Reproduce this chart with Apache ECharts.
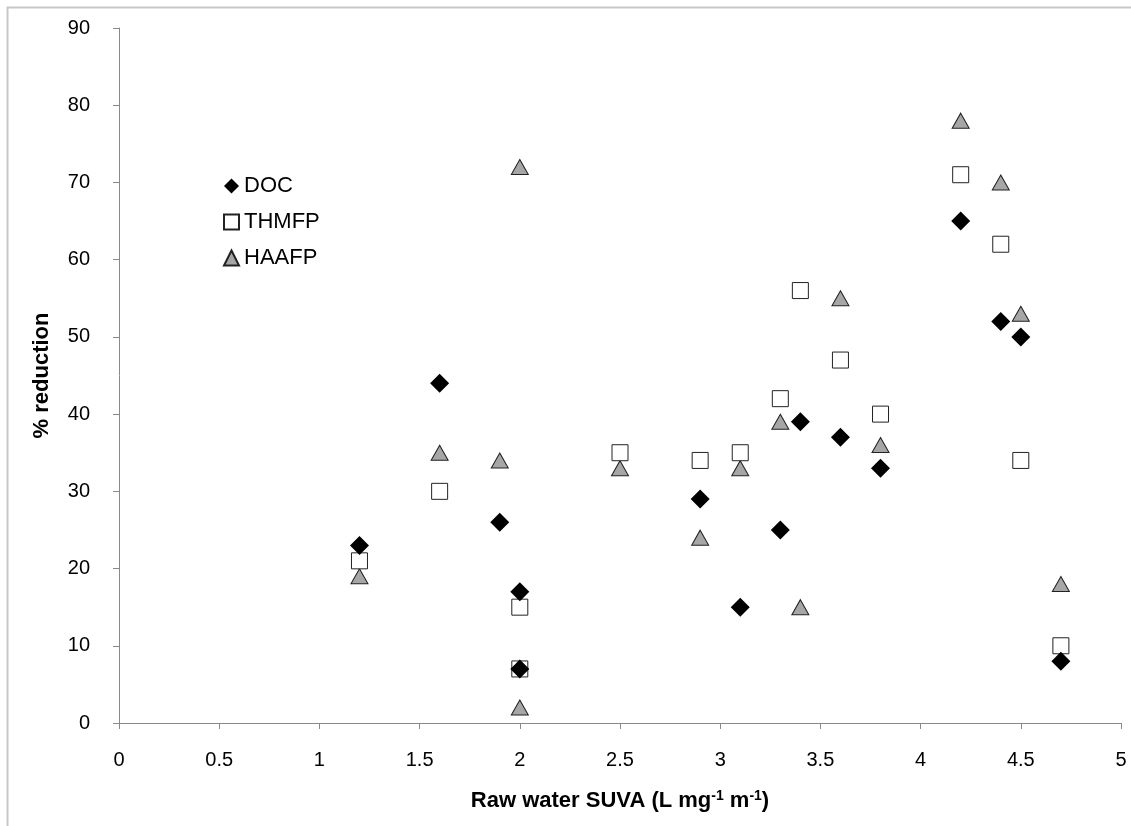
<!DOCTYPE html>
<html lang="en">
<head>
    <meta charset="UTF-8">
    <title>% reduction vs raw water SUVA</title>
    <script src="https://cdn.jsdelivr.net/npm/echarts@6/dist/echarts.min.js"></script>
    <style>
        body, html {
            margin: 0;
            padding: 0;
            width: 100%;
            height: 100%;
            overflow: hidden;
            background-color: #fff;
        }
        #container {
            width: 1131px;
            height: 826px;
        }
    </style>
</head>
<body>
    <div id="container"></div>
    <script>
        // raw water SUVA (x) and % reduction (y) for each measure
        var docX = [1.2, 1.6, 1.9, 2.0, 2.0, 2.9, 3.1, 3.3, 3.4, 3.6, 3.8, 4.2, 4.4, 4.5, 4.7];
        var docY = [23, 44, 26, 17, 7, 29, 15, 25, 39, 37, 33, 65, 52, 50, 8];

        var thmX = [1.2, 1.6, 2.0, 2.0, 2.5, 2.9, 3.1, 3.3, 3.4, 3.6, 3.8, 4.2, 4.4, 4.5, 4.7];
        var thmY = [21, 30, 15, 7, 35, 34, 35, 42, 56, 47, 40, 71, 62, 34, 10];

        var haaX = [1.2, 1.6, 1.9, 2.0, 2.0, 2.5, 2.9, 3.1, 3.3, 3.4, 3.6, 3.8, 4.2, 4.4, 4.5, 4.7];
        var haaY = [19, 35, 34, 72, 2, 33, 24, 33, 39, 15, 55, 36, 78, 70, 53, 18];

        var seriesNames = ['DOC', 'THMFP', 'HAAFP'];

        function pairs(xs, ys) {
            return xs.map(function (x, i) { return [x, ys[i]]; });
        }

        var font = 'Liberation Sans, Arial, sans-serif';
        var axisGrey = '#898989';

        var option = {
            backgroundColor: '#fff',
            animation: false,
            textStyle: { fontFamily: font },
            graphic: [{
                type: 'rect',
                shape: { x: 7.5, y: 7.5, width: 1140, height: 840 },
                style: { fill: 'none', stroke: '#c8c8c8', lineWidth: 2 },
                silent: true
            }],
            grid: { left: 119, right: 10, top: 28, bottom: 103 },
            legend: {
                orient: 'vertical',
                left: 218,
                top: 170,
                itemGap: 14,
                itemWidth: 15,
                itemHeight: 15,
                textStyle: { fontSize: 22, lineHeight: 22, color: '#000', fontFamily: font },
                data: seriesNames
            },
            xAxis: {
                type: 'value',
                min: 0, max: 5, interval: 0.5,
                name: '{b|Raw water SUVA (L mg}{s|-1}{b| m}{s|-1}{b|)}',
                nameLocation: 'middle',
                nameGap: 66,
                nameTextStyle: {
                    rich: {
                        b: { fontSize: 22, fontWeight: 'bold', color: '#000', fontFamily: font },
                        s: { fontSize: 14, fontWeight: 'bold', color: '#000', fontFamily: font, verticalAlign: 'top', padding: [0, 0, 10, 0] }
                    }
                },
                splitLine: { show: false },
                axisLine: { lineStyle: { color: axisGrey } },
                axisTick: { inside: false, length: 6, lineStyle: { color: axisGrey } },
                axisLabel: { fontSize: 20, color: '#000', margin: 27, fontFamily: font }
            },
            yAxis: {
                type: 'value',
                min: 0, max: 90, interval: 10,
                name: '% reduction',
                nameLocation: 'middle',
                nameGap: 66,
                nameTextStyle: { fontSize: 22, fontWeight: 'bold', color: '#000', fontFamily: font },
                splitLine: { show: false },
                axisLine: { show: true, lineStyle: { color: axisGrey } },
                axisTick: { show: true, length: 6, lineStyle: { color: axisGrey } },
                axisLabel: { fontSize: 20, color: '#000', margin: 29, fontFamily: font }
            },
            series: [{
                name: 'DOC',
                type: 'scatter',
                symbol: 'diamond',
                symbolSize: 19,
                z: 4,
                itemStyle: { color: '#000', borderColor: '#000', borderWidth: 0, opacity: 1 },
                data: pairs(docX, docY)
            }, {
                name: 'THMFP',
                type: 'scatter',
                symbol: 'rect',
                symbolSize: 16,
                z: 3,
                itemStyle: { color: '#fff', borderColor: '#222', borderWidth: 1, opacity: 1 },
                data: pairs(thmX, thmY)
            }, {
                name: 'HAAFP',
                type: 'scatter',
                symbol: 'triangle',
                symbolSize: [17, 15],
                z: 2,
                itemStyle: { color: '#a6a6a6', borderColor: '#222', borderWidth: 1, opacity: 1 },
                data: pairs(haaX, haaY)
            }]
        };

        var chart = echarts.init(document.getElementById('container'));
        chart.setOption(option);
    </script>
</body>
</html>
